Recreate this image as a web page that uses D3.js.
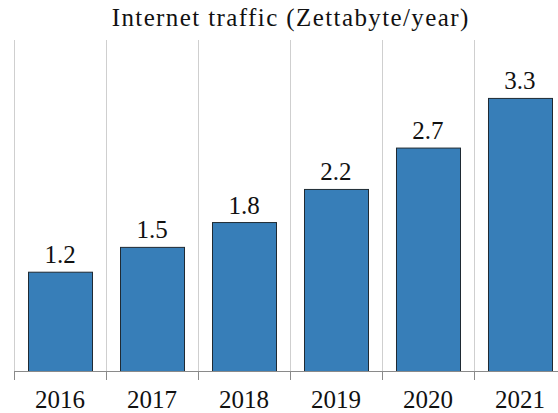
<!DOCTYPE html>
<html>
<head>
<meta charset="utf-8">
<script src="https://cdn.jsdelivr.net/npm/d3@7"></script>
<style>
  html, body { margin: 0; padding: 0; background: #fff; }
  svg { display: block; }
</style>
</head>
<body>
<svg id="chart" width="558" height="413"></svg>
<script>
const years = ["2016", "2017", "2018", "2019", "2020", "2021"];
const traffic = [1.2, 1.5, 1.8, 2.2, 2.7, 3.3];
const valueLabels = ["1.2", "1.5", "1.8", "2.2", "2.7", "3.3"];
const title = "Internet traffic (Zettabyte/year)";

(function draw() {
  const serif = "'Liberation Serif', 'Times New Roman', Tinos, serif";
  const svg = d3.select("#chart");
  const plotLeft = 14, plotRight = 566, plotTop = 40, plotBottom = 371;

  const x = d3.scaleBand().domain(years).range([plotLeft, plotRight])
    .paddingInner(0.3043).paddingOuter(0.1522);
  const xCell = d3.scaleBand().domain(years).range([plotLeft, plotRight]);
  const y = d3.scaleLinear().domain([0, 4]).range([plotBottom, plotTop]);

  // vertical grid lines at the category boundaries
  svg.append("g").selectAll("line").data(years).join("line")
    .attr("x1", d => xCell(d) + 0.5).attr("x2", d => xCell(d) + 0.5)
    .attr("y1", plotTop).attr("y2", plotBottom)
    .attr("stroke", "#cfcfcf").attr("stroke-width", 1);

  // bars
  svg.append("g").selectAll("rect").data(years).join("rect")
    .attr("x", d => x(d) + 0.5)
    .attr("y", (d, i) => y(traffic[i]) + 0.5)
    .attr("width", x.bandwidth())
    .attr("height", (d, i) => plotBottom - y(traffic[i]))
    .attr("fill", "#377eb8")
    .attr("stroke", "#1f2a33").attr("stroke-width", 1);

  // value labels above bars
  svg.append("g").selectAll("text").data(years).join("text")
    .attr("x", d => x(d) + x.bandwidth() / 2)
    .attr("y", (d, i) => y(traffic[i]) - 8.5)
    .attr("text-anchor", "middle")
    .style("font-family", serif)
    .style("font-size", "25px")
    .attr("fill", "#111")
    .text((d, i) => valueLabels[i]);

  // x axis: baseline, boundary ticks and year labels
  const axis = svg.append("g");
  axis.append("line")
    .attr("x1", plotLeft).attr("x2", plotRight)
    .attr("y1", plotBottom + 0.5).attr("y2", plotBottom + 0.5)
    .attr("stroke", "#8a8a8a").attr("stroke-width", 1);
  axis.selectAll("line.tick").data(years).join("line")
    .attr("class", "tick")
    .attr("x1", d => xCell(d) + 0.5).attr("x2", d => xCell(d) + 0.5)
    .attr("y1", plotBottom).attr("y2", plotBottom + 9)
    .attr("stroke", "#8a8a8a").attr("stroke-width", 1);
  axis.selectAll("text").data(years).join("text")
    .attr("x", d => xCell(d) + xCell.bandwidth() / 2)
    .attr("y", 408)
    .attr("text-anchor", "middle")
    .style("font-family", serif)
    .style("font-size", "25px")
    .attr("fill", "#111")
    .text(d => d);

  // title
  svg.append("text")
    .attr("x", (plotLeft + plotRight) / 2 + 0.7)
    .attr("y", 26)
    .attr("text-anchor", "middle")
    .style("font-family", serif)
    .style("font-size", "25px")
    .style("letter-spacing", "1.4px")
    .attr("fill", "#111")
    .text(title);
})();
</script>
</body>
</html>
